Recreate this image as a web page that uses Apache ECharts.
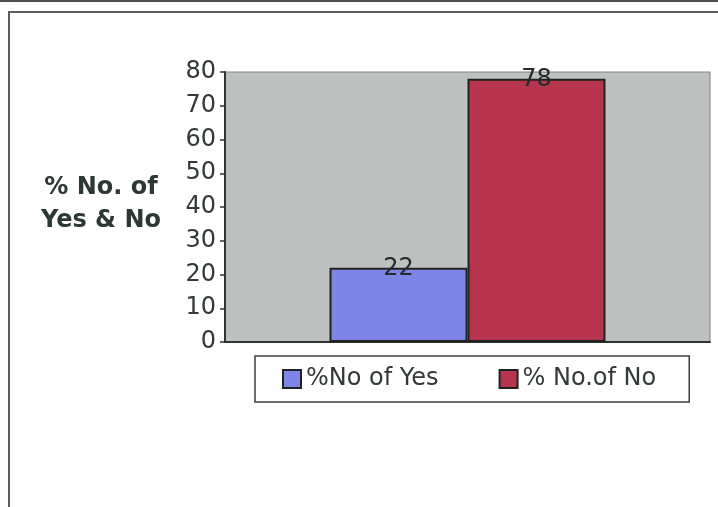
<!DOCTYPE html>
<html>
<head>
<meta charset="utf-8">
<script src="https://cdn.jsdelivr.net/npm/echarts@6/dist/echarts.min.js"></script>
<style>
  html, body { margin: 0; padding: 0; background: #fff; }
  #chart { width: 718px; height: 507px; }
</style>
</head>
<body>
<div id="chart"></div>
<script>
// Share of yes / no answers, in percent
const categories = [''];
const seriesNames = ['%No of Yes', '% No.of No'];
const yesValues = [22];
const noValues = [78];
const yTicks = { min: 0, max: 80, interval: 10 };

const FONT = 'DejaVu Sans';
const TEXT = '#333a36';

const chart = echarts.init(document.getElementById('chart'), null, { renderer: 'canvas' });

const barLabel = {
  show: true,
  position: 'top',
  distance: 0,
  offset: [0, 13],
  fontFamily: FONT,
  fontSize: 24,
  color: '#262a28'
};

chart.setOption({
  animation: false,
  backgroundColor: '#ffffff',
  textStyle: { fontFamily: FONT },
  graphic: [
    // frame around the chart
    {
      type: 'rect',
      shape: { x: 9, y: 12, width: 760, height: 560 },
      style: { fill: 'none', stroke: '#5a5f5c', lineWidth: 2 },
      silent: true
    },
    {
      type: 'line',
      shape: { x1: 0, y1: 1, x2: 718, y2: 1 },
      style: { stroke: '#4a504c', lineWidth: 2 },
      silent: true
    },
    // y-axis title
    {
      type: 'text',
      x: 101,
      y: 204,
      style: {
        text: '% No. of\nYes & No',
        fontFamily: FONT,
        fontSize: 24,
        fontWeight: 'bold',
        lineHeight: 33,
        fill: '#2c3832',
        align: 'center',
        verticalAlign: 'middle'
      }
    }
  ],
  grid: {
    left: 225,
    right: 8,
    top: 72,
    bottom: 165,
    show: true,
    backgroundColor: '#bfc1c1',
    borderColor: '#7d8280',
    borderWidth: 1
  },
  legend: {
    left: 255,
    top: 356,
    orient: 'horizontal',
    icon: 'rect',
    padding: [11, 33, 11, 27],
    itemGap: 60,
    itemWidth: 18,
    itemHeight: 18,
    borderColor: '#3a3f3c',
    borderWidth: 1.5,
    textStyle: { fontFamily: FONT, fontSize: 24, color: TEXT },
    data: seriesNames
  },
  xAxis: {
    type: 'category',
    data: categories,
    axisLine: { show: true, lineStyle: { color: '#2f3431', width: 2 } },
    axisTick: { show: false },
    axisLabel: { show: false },
    splitLine: { show: false }
  },
  yAxis: {
    type: 'value',
    min: yTicks.min,
    max: yTicks.max,
    interval: yTicks.interval,
    axisLine: { show: true, lineStyle: { color: '#2f3431', width: 2 } },
    axisTick: { show: true, inside: false, length: 5, lineStyle: { color: '#2f3431', width: 1.5 } },
    axisLabel: { fontFamily: FONT, fontSize: 24, color: TEXT, margin: 9 },
    splitLine: { show: false }
  },
  series: [
    {
      name: seriesNames[0],
      type: 'bar',
      data: yesValues,
      barWidth: 138,
      barGap: '0%',
      itemStyle: { color: '#7e85e6', borderColor: '#1f2320', borderWidth: 2 },
      label: barLabel
    },
    {
      name: seriesNames[1],
      type: 'bar',
      data: noValues,
      barWidth: 138,
      barGap: '0%',
      itemStyle: { color: '#b7344f', borderColor: '#1f2320', borderWidth: 2 },
      label: barLabel
    }
  ]
});
</script>
</body>
</html>
